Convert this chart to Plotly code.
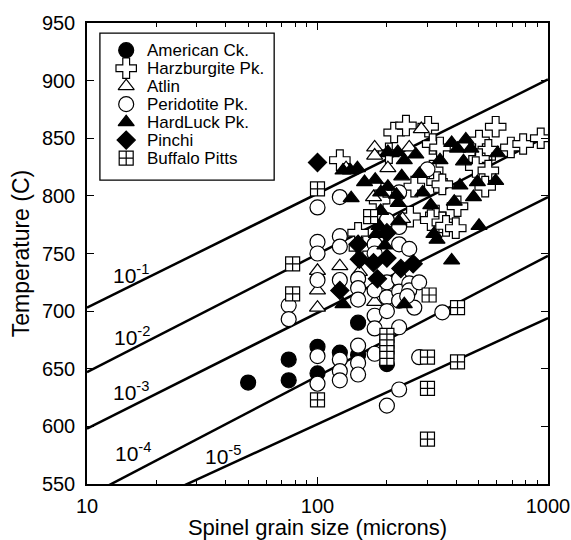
import numpy as np
import plotly.graph_objects as go

# ---------------- data (grain size in microns, temperature in C) ----------------
amer_d = [50, 75, 75, 100, 100, 125, 150, 150, 200]
amer_T = [638, 658, 640, 669, 646, 664, 690, 662, 654]

harz_d = [215, 242, 302, 593, 125, 204, 316, 340, 502, 534, 551, 690, 780, 930,
          502, 486, 551, 316, 330, 348, 534, 263, 195, 186,
          405, 252, 326, 310, 348, 361, 398, 150, 152]
harz_T = [855, 861, 860, 860, 831, 837, 845, 842, 848, 834, 840, 842, 845, 850,
          832, 825, 822, 822, 812, 810, 808, 808, 802, 796,
          791, 782, 783, 779, 777, 774, 772, 768, 755]

atlin_d = [100, 100, 100, 125, 152, 177, 177, 177, 175, 133, 202, 250, 282, 234]
atlin_T = [735, 718, 703, 739, 734, 708, 842, 835, 799, 824, 824, 842, 858, 780]

peri_d = [75, 75, 100, 100, 100, 100, 100, 100, 125, 125, 125, 125, 125, 125, 125,
          150, 150, 150, 150, 150, 150, 177, 177, 177, 177, 177, 177,
          200, 200, 200, 200, 200, 226, 226, 226, 226, 226, 226, 226, 226,
          250, 250, 250, 263, 276, 276, 300, 348, 245]
peri_T = [705, 693, 790, 760, 750, 727, 661, 637, 799, 765, 756, 727, 658, 648, 640,
          728, 720, 710, 670, 655, 645, 758, 750, 718, 696, 685, 663,
          779, 725, 712, 700, 618, 803, 773, 758, 728, 717, 709, 686, 632,
          754, 724, 718, 703, 725, 660, 823, 699, 713]

hard_d = [129, 139, 149, 140, 160, 178, 188, 202, 188, 202, 223, 232, 238, 267, 277,
          286, 310, 320, 330, 340, 382, 392, 405, 415, 430, 440, 463, 475, 494, 502,
          593, 604, 382, 225, 220, 224, 129, 238, 180, 185, 196]
hard_T = [822, 822, 824, 798, 812, 814, 803, 808, 787, 838, 838, 817, 831, 836, 819,
          803, 792, 767, 762, 831, 846, 795, 841, 809, 830, 849, 841, 799, 812, 774,
          813, 837, 744, 778, 801, 794, 706, 706, 767, 774, 757]

pin_d = [100, 125, 150, 152, 175, 200, 200, 230, 260, 182]
pin_T = [829, 718, 758, 745, 742, 768, 746, 737, 741, 728]

buf_d = [100, 78, 78, 100, 170, 200, 200, 200, 200, 200, 305, 405, 300, 405, 300, 300]
buf_T = [806, 741, 715, 623, 782, 679, 674, 669, 664, 659, 714, 703, 660, 656, 633, 589]

# strain-rate contours: label, T at 10 microns, T at 1000 microns
rate_labels = ["10<sup>-1</sup>", "10<sup>-2</sup>", "10<sup>-3</sup>", "10<sup>-4</sup>", "10<sup>-5</sup>"]
rate_T10 = [703, 647, 598, 539, 510]
rate_T1000 = [901, 852, 799, 748, 694]
label_d = [15.5, 15.7, 15.5, 15.8, 38.8]
label_T = [732, 678, 631, 578, 575]

FONT = "Liberation Sans, Arial, Helvetica, sans-serif"
LW = 1.2

series = [
    ("American Ck.", amer_d, amer_T, dict(symbol="circle", size=15, color="black",
                                            line=dict(color="black", width=LW))),
    ("Harzburgite Pk.", harz_d, harz_T, dict(symbol="cross", size=17, color="white",
                                               line=dict(color="black", width=LW))),
    ("Atlin", atlin_d, atlin_T, dict(symbol="triangle-up", size=14, color="white",
                                       line=dict(color="black", width=LW))),
    ("Peridotite Pk.", peri_d, peri_T, dict(symbol="circle", size=15, color="white",
                                              line=dict(color="black", width=LW))),
    ("HardLuck Pk.", hard_d, hard_T, dict(symbol="triangle-up", size=14, color="black",
                                            line=dict(color="black", width=LW))),
    ("Pinchi", pin_d, pin_T, dict(symbol="diamond", size=14, color="black",
                                    line=dict(color="black", width=LW))),
    ("Buffalo Pitts", buf_d, buf_T, dict(symbol="square-cross", size=14, color="white",
                                           line=dict(color="black", width=LW))),
]

fig = go.Figure()

# contour lines
dgrid = np.logspace(1, 3, 50)
for t10, t1000 in zip(rate_T10, rate_T1000):
    slope = (t1000 - t10) / 2.0
    fig.add_trace(go.Scatter(x=dgrid, y=t10 + slope * np.log10(dgrid / 10.0), mode="lines",
                             line=dict(color="black", width=2.5), showlegend=False,
                             hoverinfo="skip"))

# data
for name, d, T, mk in series:
    fig.add_trace(go.Scatter(x=d, y=T, mode="markers", name=name, marker=mk, showlegend=False))

# contour labels
for lab, ld, lt in zip(rate_labels, label_d, label_T):
    fig.add_annotation(x=np.log10(ld), y=lt, text=lab, showarrow=False,
                       font=dict(family=FONT, size=21, color="black"),
                       xanchor="center", yanchor="middle")

# manual legend (in plot-area fractions)
box_x0, box_x1, box_y0, box_y1 = 0.028, 0.406, 0.659, 0.978
leg_mx, leg_tx, leg_y0, leg_dy = 0.085, 0.126, 0.941, 0.039
fig.add_shape(type="rect", xref="paper", yref="paper", x0=box_x0, x1=box_x1,
              y0=box_y0, y1=box_y1, line=dict(color="black", width=1.3),
              fillcolor="white", layer="below")
for i, (name, d, T, mk) in enumerate(series):
    yy = leg_y0 - i * leg_dy
    fig.add_trace(go.Scatter(x=[leg_mx], y=[yy], xaxis="x2", yaxis="y2", mode="markers",
                             marker=mk, showlegend=False, hoverinfo="skip"))
    fig.add_annotation(xref="paper", yref="paper", x=leg_tx, y=yy, text=name,
                       showarrow=False, xanchor="left", yanchor="middle",
                       font=dict(family=FONT, size=17, color="black"))

axis_common = dict(showline=True, linecolor="black", linewidth=1.5, mirror="ticks",
                   ticks="inside", ticklen=7, tickwidth=1.2, tickcolor="black",
                   showgrid=False, zeroline=False, automargin=False,
                   tickfont=dict(family=FONT, size=20, color="black"))

fig.update_layout(
    width=571, height=540,
    margin=dict(l=87, r=23, t=23, b=56, autoexpand=False),
    paper_bgcolor="white", plot_bgcolor="white",
    font=dict(family=FONT, color="black"),
    showlegend=False,
    xaxis=dict(type="log", range=[1, 3], tickvals=[10, 100, 1000],
               ticktext=["10", "100", "1000"],
               minor=dict(ticks="inside", ticklen=4, tickcolor="black",
                          tickvals=[20, 30, 40, 50, 60, 70, 80, 90,
                                    200, 300, 400, 500, 600, 700, 800, 900]),
               title=dict(text="Spinel grain size (microns)", standoff=2,
                          font=dict(family=FONT, size=22, color="black")),
               ticklabelstandoff=3,
               **axis_common),
    yaxis=dict(range=[550, 950], dtick=50, tick0=550,
               title=dict(text="Temperature (C)", standoff=6,
                          font=dict(family=FONT, size=23, color="black")),
               ticklabelstandoff=6,
               **axis_common),
    xaxis2=dict(overlaying="x", range=[0, 1], visible=False),
    yaxis2=dict(overlaying="y", range=[0, 1], visible=False),
)

fig.write_html("out.html")
